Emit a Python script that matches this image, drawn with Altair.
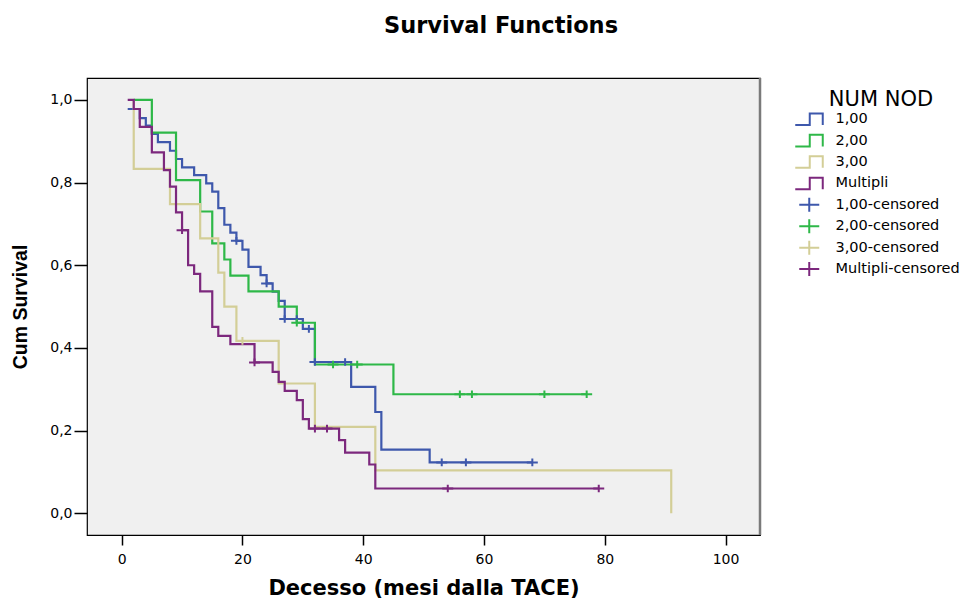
import altair as alt
import pandas as pd

# ---- categories / legend labels ----
line_keys = ["1,00", "2,00", "3,00", "Multipli"]
cens_keys = ["1,00-censored", "2,00-censored", "3,00-censored", "Multipli-censored"]
series_colors = ["#3E58AC", "#2EB848", "#D3CE97", "#7C287D"]

# ---- Kaplan-Meier step curves (time in months, cumulative survival) ----
blue_t = [1, 3, 4, 5, 6, 8, 9, 10, 12, 14, 15, 16, 17, 18, 19, 20, 21, 23, 24, 25, 26, 27, 30, 32, 38, 42, 43, 51, 68]
blue_s = [0.978, 0.956, 0.938, 0.918, 0.898, 0.877, 0.857, 0.837, 0.818, 0.798, 0.778, 0.738, 0.698, 0.679,
          0.659, 0.638, 0.596, 0.576, 0.556, 0.536, 0.514, 0.470, 0.446, 0.366, 0.306, 0.245, 0.154, 0.123, 0.123]
blue_cens = [19, 24, 27, 29, 31, 32, 37, 53, 57, 68]

green_t = [2, 5, 9, 13, 15, 17, 18, 21, 26, 29, 32, 45, 77]
green_s = [1.0, 0.921, 0.806, 0.730, 0.653, 0.614, 0.575, 0.537, 0.500, 0.461, 0.360, 0.288, 0.288]
green_cens = [29, 35, 39, 56, 58, 70, 77]

yellow_t = [2, 2, 8, 13, 16, 17, 19, 26, 32, 42, 91]
yellow_s = [1.0, 0.833, 0.748, 0.665, 0.582, 0.500, 0.417, 0.314, 0.209, 0.104, 0.0]
yellow_cens = [20]

purple_t = [1, 2, 3, 5, 7, 8, 9, 10, 11, 12, 13, 15, 16, 18, 22, 25, 26, 27, 29, 30, 31, 36, 37, 41, 42, 79]
purple_s = [1.0, 0.978, 0.935, 0.873, 0.830, 0.790, 0.728, 0.685, 0.600, 0.579, 0.537, 0.451, 0.429, 0.409,
            0.365, 0.342, 0.318, 0.296, 0.274, 0.228, 0.205, 0.177, 0.147, 0.118, 0.060, 0.060]
purple_cens = [10, 22, 32, 34, 54, 79]

x_ticks = [0, 20, 40, 60, 80, 100]
y_ticks = [0.0, 0.2, 0.4, 0.6, 0.8, 1.0]

series = [
    (line_keys[0], cens_keys[0], blue_t, blue_s, blue_cens),
    (line_keys[1], cens_keys[1], green_t, green_s, green_cens),
    (line_keys[2], cens_keys[2], yellow_t, yellow_s, yellow_cens),
    (line_keys[3], cens_keys[3], purple_t, purple_s, purple_cens),
]


def surv_at(ts, ss, c):
    val = ss[0]
    for t, s in zip(ts, ss):
        if t <= c:
            val = s
    return val


line_rows, cens_rows = [], []
for lk, ck, ts, ss, cs in series:
    for i, (t, s) in enumerate(zip(ts, ss)):
        line_rows.append({"key": lk, "t": t, "s": s, "i": i})
    for c in cs:
        cens_rows.append({"key": ck, "t": c, "s": surv_at(ts, ss, c)})

lines_df = pd.DataFrame(line_rows)
cens_df = pd.DataFrame(cens_rows)

all_keys = line_keys + cens_keys
step_path = "M-2.8,1.16H0.1V-1.16H2.7V1.16"
plus_path = "M-2,0H2M0,-1.4V1.4"

x_scale = alt.Scale(domain=[-5.74, 105.7], nice=False, zero=False)
y_scale = alt.Scale(domain=[-0.0525, 1.053], nice=False, zero=False)

x_axis = alt.Axis(values=x_ticks, title="Decesso (mesi dalla TACE)", domain=False, grid=False,
                  tickSize=10, tickColor="black", tickWidth=1.5, labelFont="DejaVu Sans",
                  labelFontSize=14, labelColor="black", labelPadding=7, titleFont="DejaVu Sans",
                  titleFontSize=21, titleFontWeight="bold", titleColor="black",
                  titleBaseline="alphabetic", titleY=59)
y_axis = alt.Axis(values=y_ticks, title="Cum Survival", domain=False, grid=False,
                  labelExpr="replace(format(datum.value, '.1f'), '.', ',')",
                  tickSize=13, tickColor="black", tickWidth=1.5, labelFont="DejaVu Sans",
                  labelFontSize=14, labelColor="black", labelPadding=2,
                  titleFont="Liberation Sans", titleFontSize=19.5, titleFontWeight="bold",
                  titleColor="black", titleAngle=270, titleBaseline="middle", titleAlign="center",
                  titleX=-67, titleY=228.5)

color_scale = alt.Scale(domain=all_keys, range=series_colors + series_colors)
shape_scale = alt.Scale(domain=all_keys, range=[step_path] * 4 + [plus_path] * 4)
legend = alt.Legend(title="NUM NOD", orient="none", legendX=715, legendY=11)

lines = alt.Chart(lines_df).mark_line(interpolate="step-after", strokeWidth=2.2).encode(
    x=alt.X("t:Q", scale=x_scale, axis=x_axis),
    y=alt.Y("s:Q", scale=y_scale, axis=y_axis),
    color=alt.Color("key:N", scale=color_scale, legend=legend),
    detail="key:N",
    order="i:Q",
)

cens = alt.Chart(cens_df).mark_point(filled=False, strokeWidth=2, size=30, opacity=1).encode(
    x=alt.X("t:Q", scale=x_scale),
    y=alt.Y("s:Q", scale=y_scale),
    color=alt.Color("key:N", scale=color_scale, legend=legend),
    shape=alt.Shape("key:N", scale=shape_scale, legend=legend),
)

right_edge = alt.Chart(alt.Data(values=[{}])).mark_rule(color="#7a7a7a", strokeWidth=2.5).encode(
    x=alt.value(673), y=alt.value(0), y2=alt.value(457)
)

chart = alt.layer(lines, cens, right_edge).properties(
    width=673,
    height=457,
    autosize=alt.AutoSizeParams(type="none"),
    padding={"left": 79, "top": 70, "right": 203, "bottom": 66},
    title=alt.TitleParams("Survival Functions", font="DejaVu Sans", fontSize=22.5, fontWeight="bold",
                          color="black", anchor="middle", dx=77.5, baseline="alphabetic", offset=21.5,
                          frame="group"),
).configure_view(
    fill="#F0F0F0", stroke="black", strokeWidth=1.2
).configure_legend(
    titleFont="DejaVu Sans", titleFontSize=21, titleFontWeight="normal", titleColor="black",
    titleAnchor="middle", titlePadding=2, labelFont="DejaVu Sans", labelFontSize=14.5,
    labelColor="black", labelOffset=19, symbolSize=100, symbolStrokeWidth=2,
    gridAlign="all", rowPadding=-1.6, padding=0
)

chart.save("out.html", embed_options={"renderer": "svg", "actions": False})
